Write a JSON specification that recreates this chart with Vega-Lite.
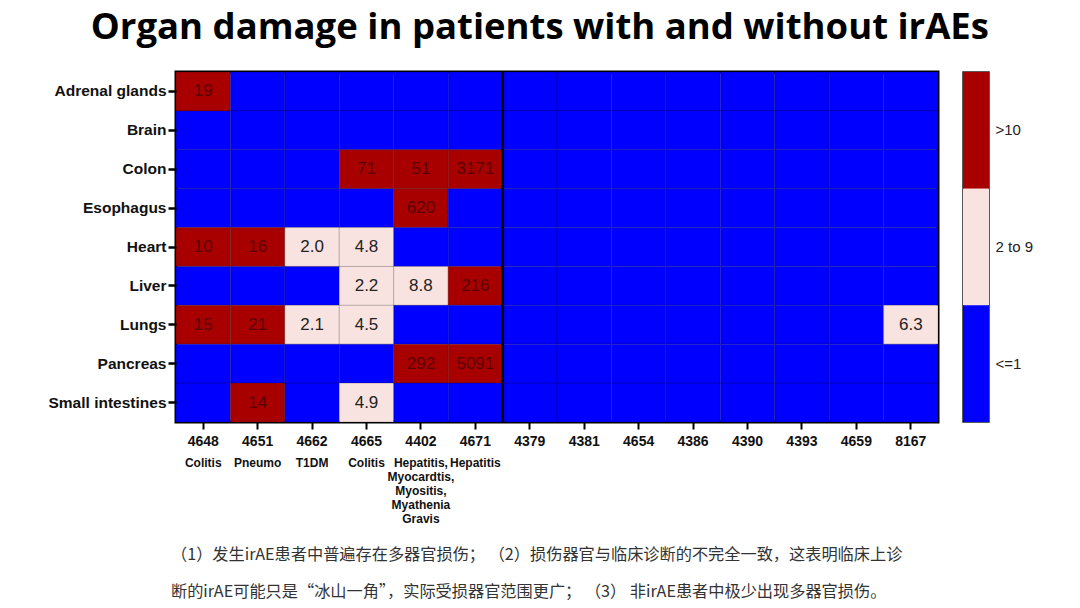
{
  "$schema": "https://vega.github.io/schema/vega-lite/v6.json",
  "background": "white",
  "padding": {"left": 46, "top": 9, "right": 5, "bottom": 2},
  "title": {"text": "Organ damage in patients with and without irAEs", "font": "Open Sans", "fontSize": 36.5, "fontWeight": "bold", "color": "#000", "anchor": "middle", "offset": 23},
  "config": {"view": {"stroke": null}},
  "datasets": {
    "cells": [
      {"organ": "Adrenal glands", "patient": "4648", "level": ">10", "value": "19"},
      {"organ": "Adrenal glands", "patient": "4651", "level": "<=1"},
      {"organ": "Adrenal glands", "patient": "4662", "level": "<=1"},
      {"organ": "Adrenal glands", "patient": "4665", "level": "<=1"},
      {"organ": "Adrenal glands", "patient": "4402", "level": "<=1"},
      {"organ": "Adrenal glands", "patient": "4671", "level": "<=1"},
      {"organ": "Adrenal glands", "patient": "4379", "level": "<=1"},
      {"organ": "Adrenal glands", "patient": "4381", "level": "<=1"},
      {"organ": "Adrenal glands", "patient": "4654", "level": "<=1"},
      {"organ": "Adrenal glands", "patient": "4386", "level": "<=1"},
      {"organ": "Adrenal glands", "patient": "4390", "level": "<=1"},
      {"organ": "Adrenal glands", "patient": "4393", "level": "<=1"},
      {"organ": "Adrenal glands", "patient": "4659", "level": "<=1"},
      {"organ": "Adrenal glands", "patient": "8167", "level": "<=1"},
      {"organ": "Brain", "patient": "4648", "level": "<=1"},
      {"organ": "Brain", "patient": "4651", "level": "<=1"},
      {"organ": "Brain", "patient": "4662", "level": "<=1"},
      {"organ": "Brain", "patient": "4665", "level": "<=1"},
      {"organ": "Brain", "patient": "4402", "level": "<=1"},
      {"organ": "Brain", "patient": "4671", "level": "<=1"},
      {"organ": "Brain", "patient": "4379", "level": "<=1"},
      {"organ": "Brain", "patient": "4381", "level": "<=1"},
      {"organ": "Brain", "patient": "4654", "level": "<=1"},
      {"organ": "Brain", "patient": "4386", "level": "<=1"},
      {"organ": "Brain", "patient": "4390", "level": "<=1"},
      {"organ": "Brain", "patient": "4393", "level": "<=1"},
      {"organ": "Brain", "patient": "4659", "level": "<=1"},
      {"organ": "Brain", "patient": "8167", "level": "<=1"},
      {"organ": "Colon", "patient": "4648", "level": "<=1"},
      {"organ": "Colon", "patient": "4651", "level": "<=1"},
      {"organ": "Colon", "patient": "4662", "level": "<=1"},
      {"organ": "Colon", "patient": "4665", "level": ">10", "value": "71"},
      {"organ": "Colon", "patient": "4402", "level": ">10", "value": "51"},
      {"organ": "Colon", "patient": "4671", "level": ">10", "value": "3171"},
      {"organ": "Colon", "patient": "4379", "level": "<=1"},
      {"organ": "Colon", "patient": "4381", "level": "<=1"},
      {"organ": "Colon", "patient": "4654", "level": "<=1"},
      {"organ": "Colon", "patient": "4386", "level": "<=1"},
      {"organ": "Colon", "patient": "4390", "level": "<=1"},
      {"organ": "Colon", "patient": "4393", "level": "<=1"},
      {"organ": "Colon", "patient": "4659", "level": "<=1"},
      {"organ": "Colon", "patient": "8167", "level": "<=1"},
      {"organ": "Esophagus", "patient": "4648", "level": "<=1"},
      {"organ": "Esophagus", "patient": "4651", "level": "<=1"},
      {"organ": "Esophagus", "patient": "4662", "level": "<=1"},
      {"organ": "Esophagus", "patient": "4665", "level": "<=1"},
      {"organ": "Esophagus", "patient": "4402", "level": ">10", "value": "620"},
      {"organ": "Esophagus", "patient": "4671", "level": "<=1"},
      {"organ": "Esophagus", "patient": "4379", "level": "<=1"},
      {"organ": "Esophagus", "patient": "4381", "level": "<=1"},
      {"organ": "Esophagus", "patient": "4654", "level": "<=1"},
      {"organ": "Esophagus", "patient": "4386", "level": "<=1"},
      {"organ": "Esophagus", "patient": "4390", "level": "<=1"},
      {"organ": "Esophagus", "patient": "4393", "level": "<=1"},
      {"organ": "Esophagus", "patient": "4659", "level": "<=1"},
      {"organ": "Esophagus", "patient": "8167", "level": "<=1"},
      {"organ": "Heart", "patient": "4648", "level": ">10", "value": "10"},
      {"organ": "Heart", "patient": "4651", "level": ">10", "value": "16"},
      {"organ": "Heart", "patient": "4662", "level": "2 to 9", "value": "2.0"},
      {"organ": "Heart", "patient": "4665", "level": "2 to 9", "value": "4.8"},
      {"organ": "Heart", "patient": "4402", "level": "<=1"},
      {"organ": "Heart", "patient": "4671", "level": "<=1"},
      {"organ": "Heart", "patient": "4379", "level": "<=1"},
      {"organ": "Heart", "patient": "4381", "level": "<=1"},
      {"organ": "Heart", "patient": "4654", "level": "<=1"},
      {"organ": "Heart", "patient": "4386", "level": "<=1"},
      {"organ": "Heart", "patient": "4390", "level": "<=1"},
      {"organ": "Heart", "patient": "4393", "level": "<=1"},
      {"organ": "Heart", "patient": "4659", "level": "<=1"},
      {"organ": "Heart", "patient": "8167", "level": "<=1"},
      {"organ": "Liver", "patient": "4648", "level": "<=1"},
      {"organ": "Liver", "patient": "4651", "level": "<=1"},
      {"organ": "Liver", "patient": "4662", "level": "<=1"},
      {"organ": "Liver", "patient": "4665", "level": "2 to 9", "value": "2.2"},
      {"organ": "Liver", "patient": "4402", "level": "2 to 9", "value": "8.8"},
      {"organ": "Liver", "patient": "4671", "level": ">10", "value": "216"},
      {"organ": "Liver", "patient": "4379", "level": "<=1"},
      {"organ": "Liver", "patient": "4381", "level": "<=1"},
      {"organ": "Liver", "patient": "4654", "level": "<=1"},
      {"organ": "Liver", "patient": "4386", "level": "<=1"},
      {"organ": "Liver", "patient": "4390", "level": "<=1"},
      {"organ": "Liver", "patient": "4393", "level": "<=1"},
      {"organ": "Liver", "patient": "4659", "level": "<=1"},
      {"organ": "Liver", "patient": "8167", "level": "<=1"},
      {"organ": "Lungs", "patient": "4648", "level": ">10", "value": "15"},
      {"organ": "Lungs", "patient": "4651", "level": ">10", "value": "21"},
      {"organ": "Lungs", "patient": "4662", "level": "2 to 9", "value": "2.1"},
      {"organ": "Lungs", "patient": "4665", "level": "2 to 9", "value": "4.5"},
      {"organ": "Lungs", "patient": "4402", "level": "<=1"},
      {"organ": "Lungs", "patient": "4671", "level": "<=1"},
      {"organ": "Lungs", "patient": "4379", "level": "<=1"},
      {"organ": "Lungs", "patient": "4381", "level": "<=1"},
      {"organ": "Lungs", "patient": "4654", "level": "<=1"},
      {"organ": "Lungs", "patient": "4386", "level": "<=1"},
      {"organ": "Lungs", "patient": "4390", "level": "<=1"},
      {"organ": "Lungs", "patient": "4393", "level": "<=1"},
      {"organ": "Lungs", "patient": "4659", "level": "<=1"},
      {"organ": "Lungs", "patient": "8167", "level": "2 to 9", "value": "6.3"},
      {"organ": "Pancreas", "patient": "4648", "level": "<=1"},
      {"organ": "Pancreas", "patient": "4651", "level": "<=1"},
      {"organ": "Pancreas", "patient": "4662", "level": "<=1"},
      {"organ": "Pancreas", "patient": "4665", "level": "<=1"},
      {"organ": "Pancreas", "patient": "4402", "level": ">10", "value": "292"},
      {"organ": "Pancreas", "patient": "4671", "level": ">10", "value": "5091"},
      {"organ": "Pancreas", "patient": "4379", "level": "<=1"},
      {"organ": "Pancreas", "patient": "4381", "level": "<=1"},
      {"organ": "Pancreas", "patient": "4654", "level": "<=1"},
      {"organ": "Pancreas", "patient": "4386", "level": "<=1"},
      {"organ": "Pancreas", "patient": "4390", "level": "<=1"},
      {"organ": "Pancreas", "patient": "4393", "level": "<=1"},
      {"organ": "Pancreas", "patient": "4659", "level": "<=1"},
      {"organ": "Pancreas", "patient": "8167", "level": "<=1"},
      {"organ": "Small intestines", "patient": "4648", "level": "<=1"},
      {"organ": "Small intestines", "patient": "4651", "level": ">10", "value": "14"},
      {"organ": "Small intestines", "patient": "4662", "level": "<=1"},
      {"organ": "Small intestines", "patient": "4665", "level": "2 to 9", "value": "4.9"},
      {"organ": "Small intestines", "patient": "4402", "level": "<=1"},
      {"organ": "Small intestines", "patient": "4671", "level": "<=1"},
      {"organ": "Small intestines", "patient": "4379", "level": "<=1"},
      {"organ": "Small intestines", "patient": "4381", "level": "<=1"},
      {"organ": "Small intestines", "patient": "4654", "level": "<=1"},
      {"organ": "Small intestines", "patient": "4386", "level": "<=1"},
      {"organ": "Small intestines", "patient": "4390", "level": "<=1"},
      {"organ": "Small intestines", "patient": "4393", "level": "<=1"},
      {"organ": "Small intestines", "patient": "4659", "level": "<=1"},
      {"organ": "Small intestines", "patient": "8167", "level": "<=1"}
    ],
    "separator": [{"patient": "4379"}],
    "levels": [{"level": ">10"}, {"level": "2 to 9"}, {"level": "<=1"}]
  },
  "spacing": 22,
  "hconcat": [
    {
      "width": 762,
      "height": 350,
      "view": {"stroke": "black", "strokeWidth": 3},
      "title": {
        "text": ["    （1）发生irAE患者中普遍存在多器官损伤； （2）损伤器官与临床诊断的不完全一致，这表明临床上诊", "断的irAE可能只是“冰山一角”，实际受损器官范围更广； （3） 非irAE患者中极少出现多器官损伤。"],
        "orient": "bottom", "anchor": "start", "frame": "group", "font": "Noto Sans CJK SC", "fontSize": 16.2, "fontWeight": "normal", "color": "#333", "lineHeight": 37, "offset": 23, "dx": -5
      },
      "data": {"name": "cells"},
      "layer": [
        {
          "mark": {"type": "rect", "stroke": "black", "strokeOpacity": 0.2, "strokeWidth": 1},
          "encoding": {
            "x": {"field": "patient", "type": "nominal",
              "scale": {"type": "band", "domain": ["4648", "4651", "4662", "4665", "4402", "4671", "4379", "4381", "4654", "4386", "4390", "4393", "4659", "8167"], "paddingInner": 0, "paddingOuter": 0},
              "axis": {"orient": "bottom", "title": null, "labelAngle": 0, "labelFont": "Liberation Sans Narrow, Liberation Sans", "labelFontWeight": "bold", "labelFontSize": 14, "labelColor": "#111", "tickColor": "black", "tickWidth": 2, "tickSize": 7, "domain": false, "labelPadding": 5, "labelOverlap": false}},
            "y": {"field": "organ", "type": "nominal",
              "scale": {"type": "band", "domain": ["Adrenal glands", "Brain", "Colon", "Esophagus", "Heart", "Liver", "Lungs", "Pancreas", "Small intestines"], "paddingInner": 0, "paddingOuter": 0},
              "axis": {"title": null, "labelFont": "Liberation Sans", "labelFontWeight": "bold", "labelFontSize": 15.5, "labelColor": "#111", "tickColor": "black", "tickWidth": 2.5, "tickSize": 8, "domain": false, "labelPadding": 2}},
            "color": {"field": "level", "type": "nominal", "scale": {"domain": [">10", "2 to 9", "<=1"], "range": ["#a80000", "#f9e3e1", "#0000fe"]}, "legend": null}
          }
        },
        {
          "transform": [{"filter": "datum.level != '<=1'"}],
          "mark": {"type": "text", "font": "Liberation Sans", "fontSize": 17},
          "encoding": {
            "x": {"field": "patient", "type": "nominal",
              "axis": {"orient": "bottom", "title": null, "labelAngle": 0, "ticks": false, "domain": false, "labelPadding": 35, "labelFont": "Liberation Sans Narrow, Liberation Sans", "labelFontWeight": "bold", "labelFontSize": 12, "labelLineHeight": 14, "labelColor": "#111", "labelBaseline": "top", "labelOverlap": false, "labelBound": false,
                "labelExpr": "datum.value == '4648' || datum.value == '4665' ? 'Colitis' : datum.value == '4651' ? 'Pneumo' : datum.value == '4662' ? 'T1DM' : datum.value == '4671' ? 'Hepatitis' : datum.value == '4402' ? ['Hepatitis,', 'Myocardtis,', 'Myositis,', 'Myathenia', 'Gravis'] : ''"}},
            "y": {"field": "organ", "type": "nominal",
              "axis": {"title": null, "labelFont": "Liberation Sans", "labelFontWeight": "bold", "labelFontSize": 15.5, "labelColor": "#111", "tickColor": "black", "tickWidth": 2.5, "tickSize": 8, "domain": false, "labelPadding": 2}},
            "text": {"field": "value"},
            "color": {"condition": {"test": "datum.level == '>10'", "value": "#5a0000"}, "value": "#222"}
          }
        },
        {
          "data": {"name": "separator"},
          "mark": {"type": "rule", "strokeWidth": 3, "color": "black"},
          "encoding": {"x": {"field": "patient", "type": "nominal", "bandPosition": 0, "axis": null}}
        }
      ],
      "resolve": {"axis": {"x": "independent"}}
    },
    {
      "width": 26,
      "height": 350,
      "view": {"stroke": "#222", "strokeWidth": 1.5},
      "data": {"name": "levels"},
      "mark": {"type": "rect"},
      "encoding": {
        "y": {"field": "level", "type": "nominal",
          "scale": {"type": "band", "domain": [">10", "2 to 9", "<=1"], "paddingInner": 0, "paddingOuter": 0},
          "axis": {"orient": "right", "title": null, "ticks": false, "domain": false, "labelFont": "Liberation Sans", "labelFontSize": 15, "labelColor": "#222", "labelPadding": 6}},
        "color": {"field": "level", "type": "nominal", "scale": {"domain": [">10", "2 to 9", "<=1"], "range": ["#a80000", "#f9e3e1", "#0000fe"]}, "legend": null}
      }
    }
  ]
}
